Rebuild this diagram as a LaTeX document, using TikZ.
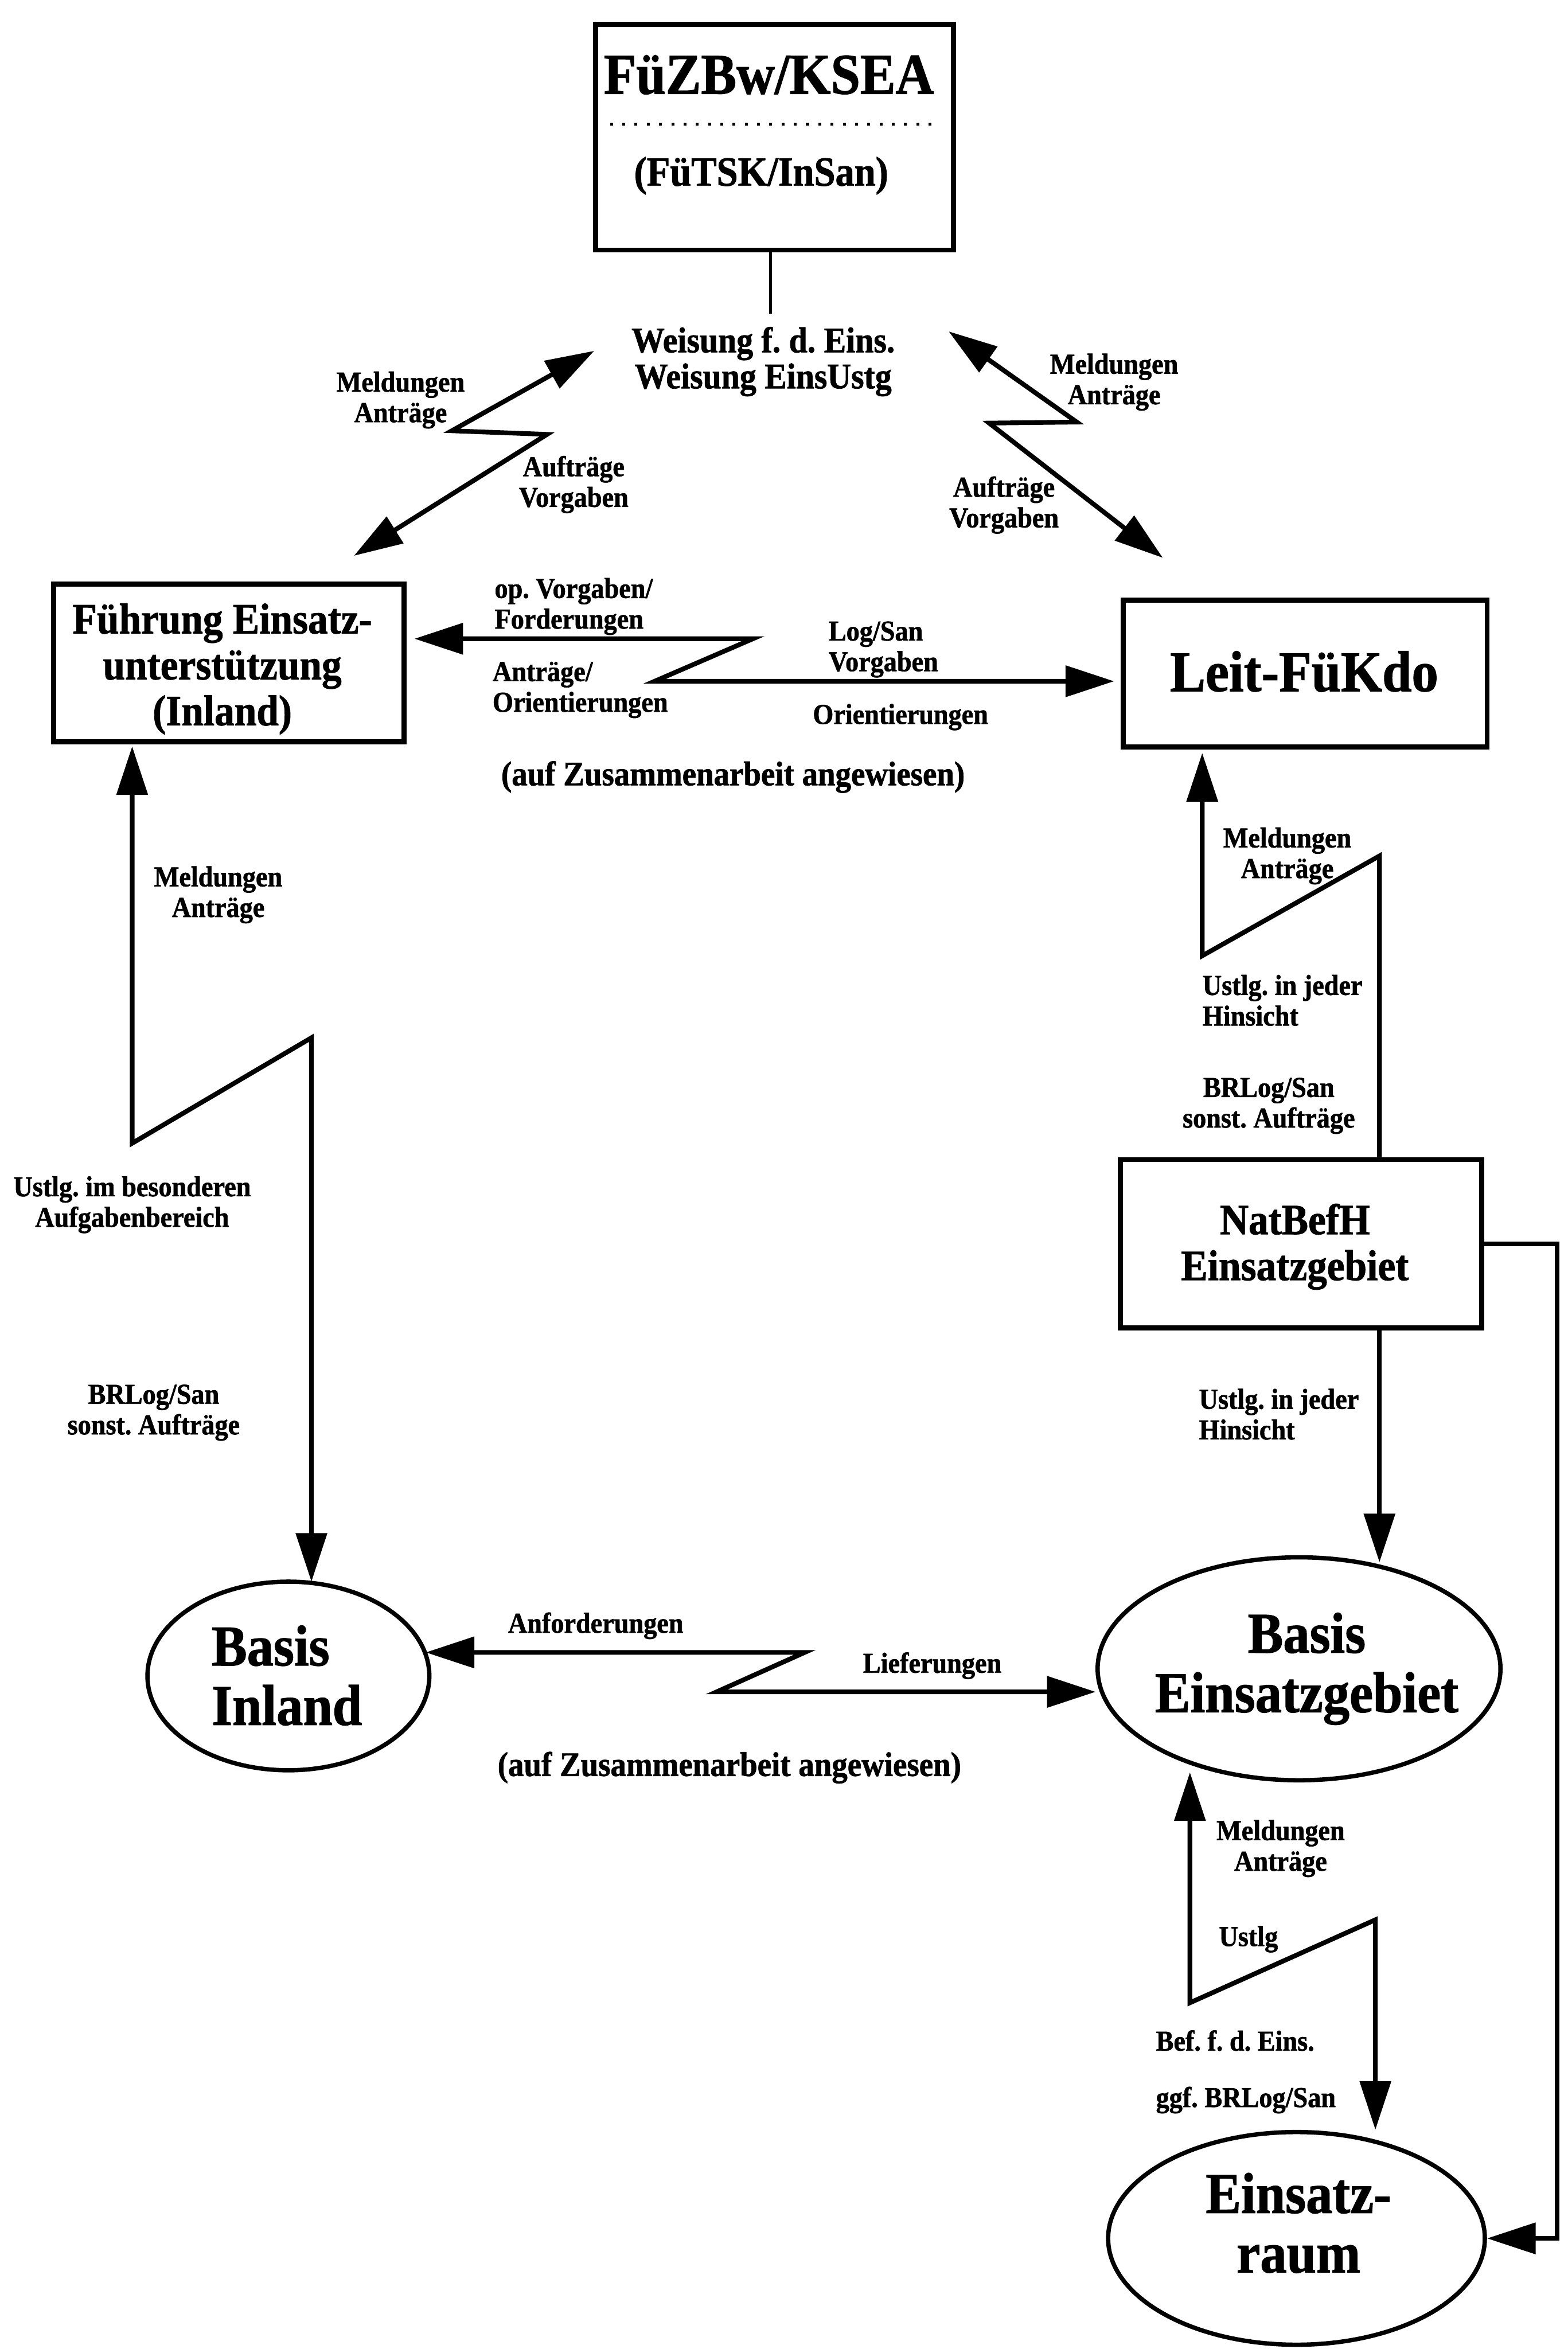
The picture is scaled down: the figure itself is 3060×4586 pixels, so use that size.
\documentclass[tikz,border=0pt]{standalone}
\usepackage{fontspec}
\setmainfont{Liberation Serif}[FakeStretch=0.92, BoldFeatures={FakeBold=1.2}]
\usetikzlibrary{arrows.meta,shapes.geometric}
\begin{document}
\begin{tikzpicture}[x=0.01cm,y=-0.01cm,
  lbl/.style={font=\fontsize{16}{17}\selectfont\bfseries, inner sep=0pt, align=center},
  lbll/.style={lbl, align=left, anchor=west},
  note/.style={font=\fontsize{19}{20}\selectfont\bfseries, inner sep=0pt},
  boxtxt/.style={font=\fontsize{24}{25.5}\selectfont\bfseries, inner sep=0pt, align=center},
  bigtxt/.style={font=\fontsize{32}{33}\selectfont\bfseries, inner sep=0pt, align=center},
  frame/.style={draw, line width=2.8pt, inner sep=0pt},
  oval/.style={draw, ellipse, line width=2.4pt, inner sep=0pt},
  conn/.style={line width=2.6pt},
  tip/.style={-{Triangle[length=27pt,width=17pt]}},
  rtip/.style={{Triangle[length=27pt,width=17pt]}-},
  dbl/.style={{Triangle[length=27pt,width=17pt]}-{Triangle[length=27pt,width=17pt]}}
]
\useasboundingbox (0,0) rectangle (3060,4586);

% ---------- top box ----------
\node[frame, minimum width=6.98cm, minimum height=4.40cm] (fz) at (1512,268) {};
\node[font=\fontsize{32}{33}\selectfont\bfseries, inner sep=0pt] (fzt) at (1501,146) {FüZBw/KSEA};
\coordinate (dl) at (1191,242);
\coordinate (dr) at (1835,242);
\draw[line width=1.6pt, dash pattern=on 1.6pt off 5.2pt] (dl) -- (dr);
\node[font=\fontsize{23}{24}\selectfont\bfseries, inner sep=0pt] (fzs) at (1486,343) {(FüTSK/InSan)};
\coordinate (wtop) at (1504,612);
\draw[line width=1.4pt] (fz.south -| wtop) -- (wtop);
\node[font=\fontsize{20}{20}\selectfont\bfseries, inner sep=0pt, align=center] (weis) at (1490,706) {Weisung f.\ d.\ Eins.\\Weisung EinsUstg};

% ---------- boxes ----------
\node[frame, minimum width=6.84cm, minimum height=3.08cm] (fue) at (447,1294) {};
\node[boxtxt] (fuet) at (434,1306) {Führung Einsatz-\\unterstützung\\(Inland)};
\node[frame, minimum width=7.10cm, minimum height=2.86cm] (leit) at (2548,1315) {};
\node[bigtxt] (leitt) at (2546,1311) {Leit-FüKdo};
\node[frame, minimum width=7.05cm, minimum height=3.28cm] (nat) at (2540,2428) {};
\node[boxtxt] (natt) at (2528,2434) {NatBefH\\Einsatzgebiet};

% ---------- ellipses ----------
\node[oval, minimum width=5.50cm, minimum height=3.68cm] (bi) at (563,3272) {};
\node[bigtxt, align=left] (bit) at (560,3271) {Basis\\Inland};
\node[oval, minimum width=7.86cm, minimum height=4.35cm] (beg) at (2536,3258) {};
\node[bigtxt] (begt) at (2551,3258) {Basis\\Einsatzgebiet};
\node[oval, minimum width=7.35cm, minimum height=4.15cm] (er) at (2531,4370) {};
\node[bigtxt] (ert) at (2535,4340) {Einsatz-\\raum};

% ---------- connectors ----------
% top left
\coordinate (ulA) at (1160,685);
\coordinate (ulB) at (882,841);
\coordinate (ulC) at (1068,848);
\coordinate (ulD) at (691,1085);
\draw[conn, dbl] (ulA) -- (ulB) -- (ulC) -- (ulD);
% top right
\coordinate (urA) at (1852,647);
\coordinate (urB) at (2102,824);
\coordinate (urC) at (1931,826);
\coordinate (urD) at (2270,1089);
\draw[conn, dbl] (urA) -- (urB) -- (urC) -- (urD);
% middle
\coordinate (mA) at (809,1247);
\coordinate (mB) at (1470,1247);
\coordinate (mC) at (1278,1330);
\coordinate (mD) at (2175,1330);
\draw[conn, dbl] (mA) -- (mB) -- (mC) -- (mD);
% left vertical
\coordinate (lA) at (258,1457);
\coordinate (lB) at (258,2232);
\coordinate (lC) at (608,2026);
\coordinate (lD) at (608,3088);
\draw[conn, dbl] (lA) -- (lB) -- (lC) -- (lD);
% right vertical to Leit-FueKdo
\coordinate (rA) at (2347,1470);
\coordinate (rB) at (2347,1866);
\coordinate (rC) at (2693,1671);
\draw[conn, rtip] (rA) -- (rB) -- (rC) -- (nat.north -| rC);
% NatBefH -> Basis Einsatzgebiet
\coordinate (nbA) at (2693,3050);
\draw[conn, tip] (nat.south -| nbA) -- (nbA);
% NatBefH -> Einsatzraum
\coordinate (sB) at (3040,4370);
\draw[conn, tip] (nat.east) -- (nat.east -| sB) -- (sB) -- (er.east);
% bottom
\coordinate (bA) at (831,3226);
\coordinate (bB) at (1571,3226);
\coordinate (bC) at (1399,3303);
\coordinate (bD) at (2139,3303);
\draw[conn, dbl] (bA) -- (bB) -- (bC) -- (bD);
% bottom right
\coordinate (brA) at (2323,3460);
\coordinate (brB) at (2323,3910);
\coordinate (brC) at (2685,3748);
\coordinate (brD) at (2685,4158);
\draw[conn, dbl] (brA) -- (brB) -- (brC) -- (brD);

% ---------- labels ----------
\node[lbl] (t1) at (782,781) {Meldungen\\Anträge};
\node[lbl] (t2) at (1120,946) {Aufträge\\Vorgaben};
\node[lbl] (t3) at (2175,746) {Meldungen\\Anträge};
\node[lbl] (t4) at (1960,986) {Aufträge\\Vorgaben};
\node[lbll] (t5) at (965,1184) {op.\ Vorgaben/\\Forderungen};
\node[lbll] (t6) at (961,1347) {Anträge/\\Orientierungen};
\node[lbll] (t7) at (1617,1268) {Log/San\\Vorgaben};
\node[lbl] (t8) at (1758,1400) {Orientierungen};
\node[note] (t9) at (1431,1517) {(auf Zusammenarbeit angewiesen)};
\node[lbl] (t10) at (426,1747) {Meldungen\\Anträge};
\node[lbl] (t11) at (258,2352) {Ustlg.\ im besonderen\\Aufgabenbereich};
\node[lbl] (t12) at (300,2758) {BRLog/San\\sonst.\ Aufträge};
\node[lbl] (t13) at (2513,1671) {Meldungen\\Anträge};
\node[lbll] (t14) at (2347,1953) {Ustlg.\ in jeder\\Hinsicht};
\node[lbl] (t15) at (2477,2159) {BRLog/San\\sonst.\ Aufträge};
\node[lbll] (t16) at (2340,2761) {Ustlg.\ in jeder\\Hinsicht};
\node[lbl] (t17) at (1163,3174) {Anforderungen};
\node[lbl] (t18) at (1820,3252) {Lieferungen};
\node[note] (t19) at (1424,3451) {(auf Zusammenarbeit angewiesen)};
\node[lbl] (t20) at (2500,3609) {Meldungen\\Anträge};
\node[lbll] (t21) at (2379,3786) {Ustlg};
\node[lbll] (t22) at (2256,3984) {Bef.\ f.\ d.\ Eins.};
\node[lbll] (t23) at (2256,4100) {ggf.\ BRLog/San};
\end{tikzpicture}
\end{document}
